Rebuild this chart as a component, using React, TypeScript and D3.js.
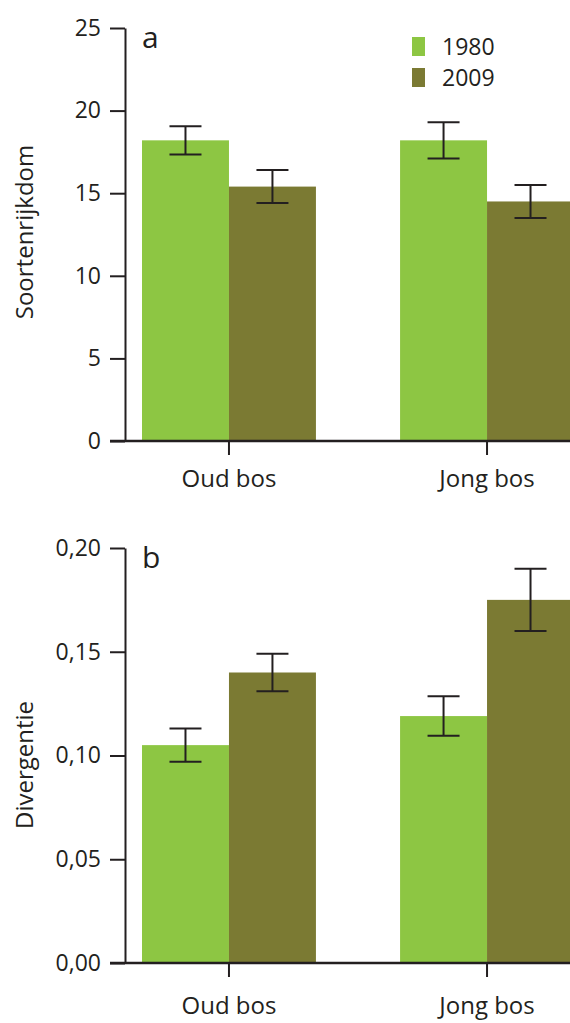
import React, { useRef, useEffect } from "react";
import * as d3 from "d3";

const groups = ["Oud bos", "Jong bos"];
const years = ["1980", "2009"];
const colors = ["#8dc643", "#7b7a33"];

// panel a: soortenrijkdom
const richness1980 = [18.2, 18.2];
const richness1980Err = [0.85, 1.1];
const richness2009 = [15.4, 14.5];
const richness2009Err = [1.0, 1.0];
const richnessTicks = [0, 5, 10, 15, 20, 25];

// panel b: divergentie
const divergence1980 = [0.105, 0.119];
const divergence1980Err = [0.008, 0.0095];
const divergence2009 = [0.140, 0.175];
const divergence2009Err = [0.009, 0.015];
const divergenceTicks = [0, 0.05, 0.1, 0.15, 0.2];

const W = 570;
const H = 1023;
const font = "'Open Sans', sans-serif";
const ink = "#231f20";

const App = () => {
  const svgRef = useRef<SVGSVGElement>(null);

  useEffect(() => {
    const svg = d3.select(svgRef.current);
    svg.selectAll("*").remove();

    const x0 = d3.scaleBand().domain(groups).range([142, 574]).paddingInner(0.326).paddingOuter(0);
    const x1 = d3.scaleBand().domain(years).range([0, x0.bandwidth()]);

    const drawPanel = (opts) => {
      const { top, bottom, max, ticks, fmt, a, aErr, b, bErr, title, titleY, letter, labelPad } = opts;
      const y = d3.scaleLinear().domain([0, max]).range([bottom, top]);
      const g = svg.append("g");

      const rows = groups.map((grp, i) => [
        { grp, year: years[0], v: a[i], e: aErr[i], c: colors[0] },
        { grp, year: years[1], v: b[i], e: bErr[i], c: colors[1] },
      ]).flat();

      g.selectAll("rect.bar")
        .data(rows)
        .join("rect")
        .attr("x", d => x0(d.grp) + x1(d.year))
        .attr("y", d => y(d.v))
        .attr("width", x1.bandwidth())
        .attr("height", d => y(0) - y(d.v))
        .attr("fill", d => d.c);

      // error bars
      const eb = g.selectAll("g.err").data(rows).join("g")
        .attr("stroke", ink).attr("stroke-width", 2);
      const cx = d => x0(d.grp) + x1(d.year) + x1.bandwidth() / 2;
      eb.append("line")
        .attr("x1", cx).attr("x2", cx)
        .attr("y1", d => y(d.v + d.e)).attr("y2", d => y(d.v - d.e));
      eb.append("line")
        .attr("x1", d => cx(d) - 16).attr("x2", d => cx(d) + 16)
        .attr("y1", d => y(d.v + d.e)).attr("y2", d => y(d.v + d.e));
      eb.append("line")
        .attr("x1", d => cx(d) - 16).attr("x2", d => cx(d) + 16)
        .attr("y1", d => y(d.v - d.e)).attr("y2", d => y(d.v - d.e));

      // y axis
      const yAxis = g.append("g")
        .attr("transform", "translate(125,0)")
        .call(d3.axisLeft(y).tickValues(ticks).tickSize(15).tickSizeOuter(0).tickPadding(9).tickFormat(fmt));
      yAxis.select(".domain").attr("stroke", ink).attr("stroke-width", 2);
      yAxis.selectAll(".tick line").attr("stroke", ink).attr("stroke-width", 2);
      yAxis.selectAll(".tick text")
        .attr("fill", ink).style("font-family", font).style("font-size", "23px");

      // x axis
      const xAxis = g.append("g")
        .attr("transform", `translate(0,${bottom})`)
        .call(d3.axisBottom(x0).tickSize(14).tickSizeOuter(0).tickPadding(labelPad));
      xAxis.select(".domain").remove();
      xAxis.selectAll(".tick line").attr("stroke", ink).attr("stroke-width", 2);
      xAxis.selectAll(".tick text")
        .attr("fill", ink).style("font-family", font).style("font-size", "24px");
      g.append("line")
        .attr("x1", 110).attr("x2", W)
        .attr("y1", bottom).attr("y2", bottom)
        .attr("stroke", ink).attr("stroke-width", 2.5);

      g.append("text")
        .attr("transform", `translate(33,${titleY}) rotate(-90)`)
        .attr("text-anchor", "middle")
        .attr("fill", ink)
        .style("font-family", font).style("font-size", "24px")
        .text(title);

      g.append("text")
        .attr("x", 142).attr("y", top + 20)
        .attr("fill", ink)
        .style("font-family", font).style("font-size", "30px")
        .text(letter);
    };

    drawPanel({
      top: 28, bottom: 441, max: 25, ticks: richnessTicks, fmt: d3.format("d"),
      a: richness1980, aErr: richness1980Err, b: richness2009, bErr: richness2009Err,
      title: "Soortenrijkdom", titleY: 232, letter: "a", labelPad: 15,
    });
    drawPanel({
      top: 548, bottom: 963, max: 0.2, ticks: divergenceTicks,
      fmt: d => d3.format(".2f")(d).replace(".", ","),
      a: divergence1980, aErr: divergence1980Err, b: divergence2009, bErr: divergence2009Err,
      title: "Divergentie", titleY: 765, letter: "b", labelPad: 20,
    });

    // legend
    const lg = svg.append("g").selectAll("g").data(years).join("g")
      .attr("transform", (d, i) => `translate(412,${37 + i * 31})`);
    lg.append("rect").attr("width", 13).attr("height", 19).attr("fill", (d, i) => colors[i]);
    lg.append("text")
      .attr("x", 30).attr("y", 18)
      .attr("fill", ink)
      .style("font-family", font).style("font-size", "23px")
      .text(d => d);
  }, []);

  return (
    <svg
      ref={svgRef}
      width={W}
      height={H}
      style={{ position: "absolute", left: 0, top: 0, background: "#fff" }}
    />
  );
};

export default App;
